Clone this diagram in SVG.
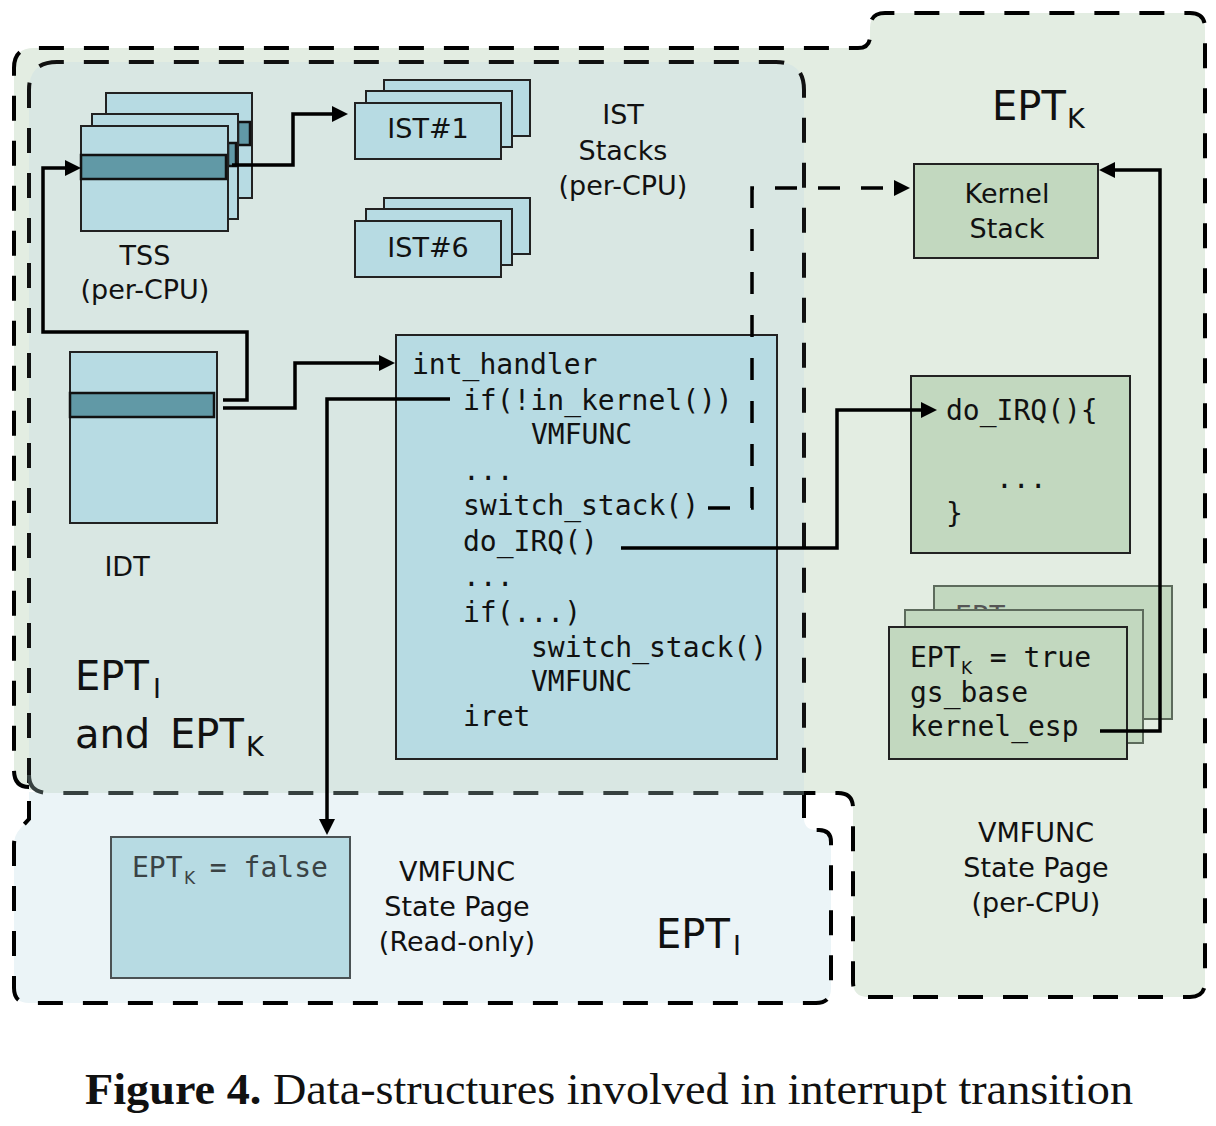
<svg xmlns="http://www.w3.org/2000/svg" width="1216" height="1126" viewBox="0 0 1216 1126">
<defs>
<style>
.sans{font-family:"DejaVu Sans","Liberation Sans",sans-serif;fill:#111}
.mono{font-family:"DejaVu Sans Mono","Liberation Mono",monospace;fill:#111;font-size:28px}
.lbl{font-size:27px}
.big{font-size:40px}
.sub{font-size:27px}
.msub{font-size:17px;font-family:"DejaVu Sans","Liberation Sans",sans-serif}
.reg{stroke-width:4;stroke-dasharray:25 20;fill:none}
.pb{fill:#b7dbe3;stroke:#222;stroke-width:2}
.pg{fill:#c2d8bf;stroke:#222;stroke-width:2}
.pgb{fill:#c2d8bf;stroke:#5d6b5c;stroke-width:2}
.band{fill:#6199a6;stroke:#111;stroke-width:2.5}
.con{fill:none;stroke:#000;stroke-width:3.5}
</style>
<marker id="ah" markerUnits="userSpaceOnUse" viewBox="0 0 16 16" markerWidth="16" markerHeight="16" refX="12" refY="8" orient="auto">
<path d="M0,0 L16,8 L0,16 Z" fill="#000"/>
</marker>
</defs>

<g id="regions">
<path id="ept-k-fill" d="M14,68 Q14,48 34,48 L858,48 Q870,48 870,36 L870,28 Q870,13 885,13 L1190,13 Q1205,13 1205,28 L1205,982 Q1205,997 1190,997 L868,997 Q853,997 853,982 L853,808 Q853,793 838,793 L30,790 Q14,787 14,770 Z" fill="#e3ede2"/>
<path id="ept-i-fill" d="M29,792 L804,792 L804,818 Q804,830 816,830 L819,830 Q831,830 831,842 L831,988 Q831,1003 816,1003 L29,1003 Q14,1003 14,988 L14,845 Q14,835 20,829 L29,819 Z" fill="#ebf4f7"/>
<path id="both-fill" d="M29,90 Q29,62 57,62 L776,62 Q804,62 804,90 L804,793 L49,793 Q29,793 29,775 Z" fill="#d9e7e3"/>
<path d="M29,787 Q14,787 14,770 L14,68 Q14,48 34,48 L858,48 Q870,48 870,36 L870,28 Q870,13 885,13 L1190,13 Q1205,13 1205,28 L1205,982 Q1205,997 1190,997 L868,997 Q853,997 853,982 L853,808 Q853,793 838,793 L804,793" class="reg" stroke="#000"/>
<path d="M804,793 L804,818 Q804,830 816,830 L819,830 Q831,830 831,842 L831,988 Q831,1003 816,1003 L29,1003 Q14,1003 14,988 L14,845 Q14,835 20,829 L29,819 L29,793" class="reg" stroke="#000"/>
<path d="M29,783 L29,90 Q29,62 57,62 L776,62 Q804,62 804,90 L804,793" class="reg" stroke="#111"/>
<path d="M29,775 Q29,793 49,793 L804,793" class="reg" stroke="#36403f"/>
<text class="sans big" x="75" y="690">EPT</text><text class="sans sub" x="153" y="698">I</text>
<text class="sans big" x="75" y="748">and</text><text class="sans big" x="170" y="748">EPT</text><text class="sans sub" x="246" y="756">K</text>
<text class="sans big" x="992" y="120">EPT</text><text class="sans sub" x="1067" y="128">K</text>
<text class="sans big" x="656" y="948">EPT</text><text class="sans sub" x="733" y="955">I</text>
</g>

<g id="tss">
<rect class="pb" x="106" y="93" width="146" height="105"/>
<rect class="band" x="238" y="122" width="12" height="23"/>
<rect class="pb" x="92" y="114" width="146" height="105"/>
<rect class="band" x="228" y="143" width="8" height="23"/>
<rect class="pb" x="81" y="126" width="147" height="105"/>
<rect class="band" x="81" y="155" width="145" height="24"/>
<text class="sans lbl" x="145" y="265" text-anchor="middle">TSS</text>
<text class="sans lbl" x="145" y="299" text-anchor="middle">(per-CPU)</text>
</g>

<g id="ist1">
<rect class="pb" x="384" y="80" width="146" height="56"/>
<rect class="pb" x="366" y="91" width="146" height="56"/>
<rect class="pb" x="355" y="103" width="146" height="56"/>
<text class="sans lbl" x="428" y="138" text-anchor="middle">IST#1</text>
</g>

<g id="ist6">
<rect class="pb" x="384" y="198" width="146" height="56"/>
<rect class="pb" x="366" y="209" width="146" height="56"/>
<rect class="pb" x="355" y="221" width="146" height="56"/>
<text class="sans lbl" x="428" y="257" text-anchor="middle">IST#6</text>
</g>

<g id="ist-label">
<text class="sans lbl" x="623" y="124" text-anchor="middle">IST</text>
<text class="sans lbl" x="623" y="160" text-anchor="middle">Stacks</text>
<text class="sans lbl" x="623" y="195" text-anchor="middle">(per-CPU)</text>
</g>

<g id="idt">
<rect class="pb" x="70" y="352" width="147" height="171"/>
<rect class="band" x="70" y="393" width="144" height="24"/>
<text class="sans lbl" x="127" y="576" text-anchor="middle">IDT</text>
</g>

<g id="int-handler">
<rect class="pb" x="396" y="335" width="381" height="424"/>
<text class="mono" x="412" y="374">int_handler</text>
<text class="mono" x="463" y="410">if(!in_kernel())</text>
<text class="mono" x="531" y="444">VMFUNC</text>
<text class="mono" x="463" y="480">...</text>
<text class="mono" x="463" y="515">switch_stack()</text>
<text class="mono" x="463" y="551">do_IRQ()</text>
<text class="mono" x="463" y="586">...</text>
<text class="mono" x="463" y="622">if(...)</text>
<text class="mono" x="531" y="657">switch_stack()</text>
<text class="mono" x="531" y="691">VMFUNC</text>
<text class="mono" x="463" y="726">iret</text>
</g>

<g id="kernel-stack">
<rect class="pg" x="914" y="164" width="184" height="94"/>
<text class="sans lbl" x="1007" y="203" text-anchor="middle">Kernel</text>
<text class="sans lbl" x="1007" y="238" text-anchor="middle">Stack</text>
</g>

<g id="do-irq">
<rect class="pg" x="911" y="376" width="219" height="177"/>
<text class="mono" x="946" y="420">do_IRQ(){</text>
<text class="mono" x="996" y="488">...</text>
<text class="mono" x="946" y="523">}</text>
</g>

<g id="state-page-k">
<rect class="pgb" x="934" y="586" width="238" height="133"/>
<text class="mono" x="955" y="626" style="fill:#555">EPT</text>
<rect class="pgb" x="905" y="610" width="238" height="133"/>
<rect class="pg" x="889" y="627" width="238" height="132"/>
<text class="mono" x="910" y="667">EPT</text><text class="msub" x="961" y="674" fill="#111">K</text><text class="mono" x="973" y="667" xml:space="preserve"> = true</text>
<text class="mono" x="910" y="702">gs_base</text>
<text class="mono" x="910" y="736">kernel_esp</text>
<text class="sans lbl" x="1036" y="842" text-anchor="middle">VMFUNC</text>
<text class="sans lbl" x="1036" y="877" text-anchor="middle">State Page</text>
<text class="sans lbl" x="1036" y="912" text-anchor="middle">(per-CPU)</text>
</g>

<g id="state-page-ro">
<rect x="111" y="837" width="239" height="141" fill="#b7dbe3" stroke="#4a5254" stroke-width="2"/>
<text class="mono" x="132" y="877" style="fill:#3a4345">EPT</text><text class="msub" x="184" y="884" fill="#3a4345">K</text><text class="mono" x="193" y="877" style="fill:#3a4345" xml:space="preserve"> = false</text>
<text class="sans lbl" x="457" y="881" text-anchor="middle">VMFUNC</text>
<text class="sans lbl" x="457" y="916" text-anchor="middle">State Page</text>
<text class="sans lbl" x="457" y="951" text-anchor="middle">(Read-only)</text>
</g>

<g id="connectors">
<path class="con" d="M223,400 L247,400 L247,332 L43,332 L43,168 L77,168" marker-end="url(#ah)"/>
<path class="con" d="M232,165 L293,165 L293,114 L344,114" marker-end="url(#ah)"/>
<path class="con" d="M223,408 L295,408 L295,363 L391,363" marker-end="url(#ah)"/>
<path class="con" d="M450,399 L327,399 L327,831" marker-end="url(#ah)"/>
<path class="con" d="M708,508 L752,508 L752,188 L906,188" stroke-dasharray="22 21" marker-end="url(#ah)"/>
<path class="con" d="M621,548 L837,548 L837,410 L933,410" marker-end="url(#ah)"/>
<path class="con" d="M1100,731 L1160,731 L1160,170 L1103,170" marker-end="url(#ah)"/>
</g>

<g id="caption">
<text x="85" y="1104" font-family="Liberation Serif,serif" font-size="44" fill="#111" textLength="1048" lengthAdjust="spacingAndGlyphs"><tspan font-weight="bold">Figure 4.</tspan> Data-structures involved in interrupt transition</text>
</g>
</svg>
